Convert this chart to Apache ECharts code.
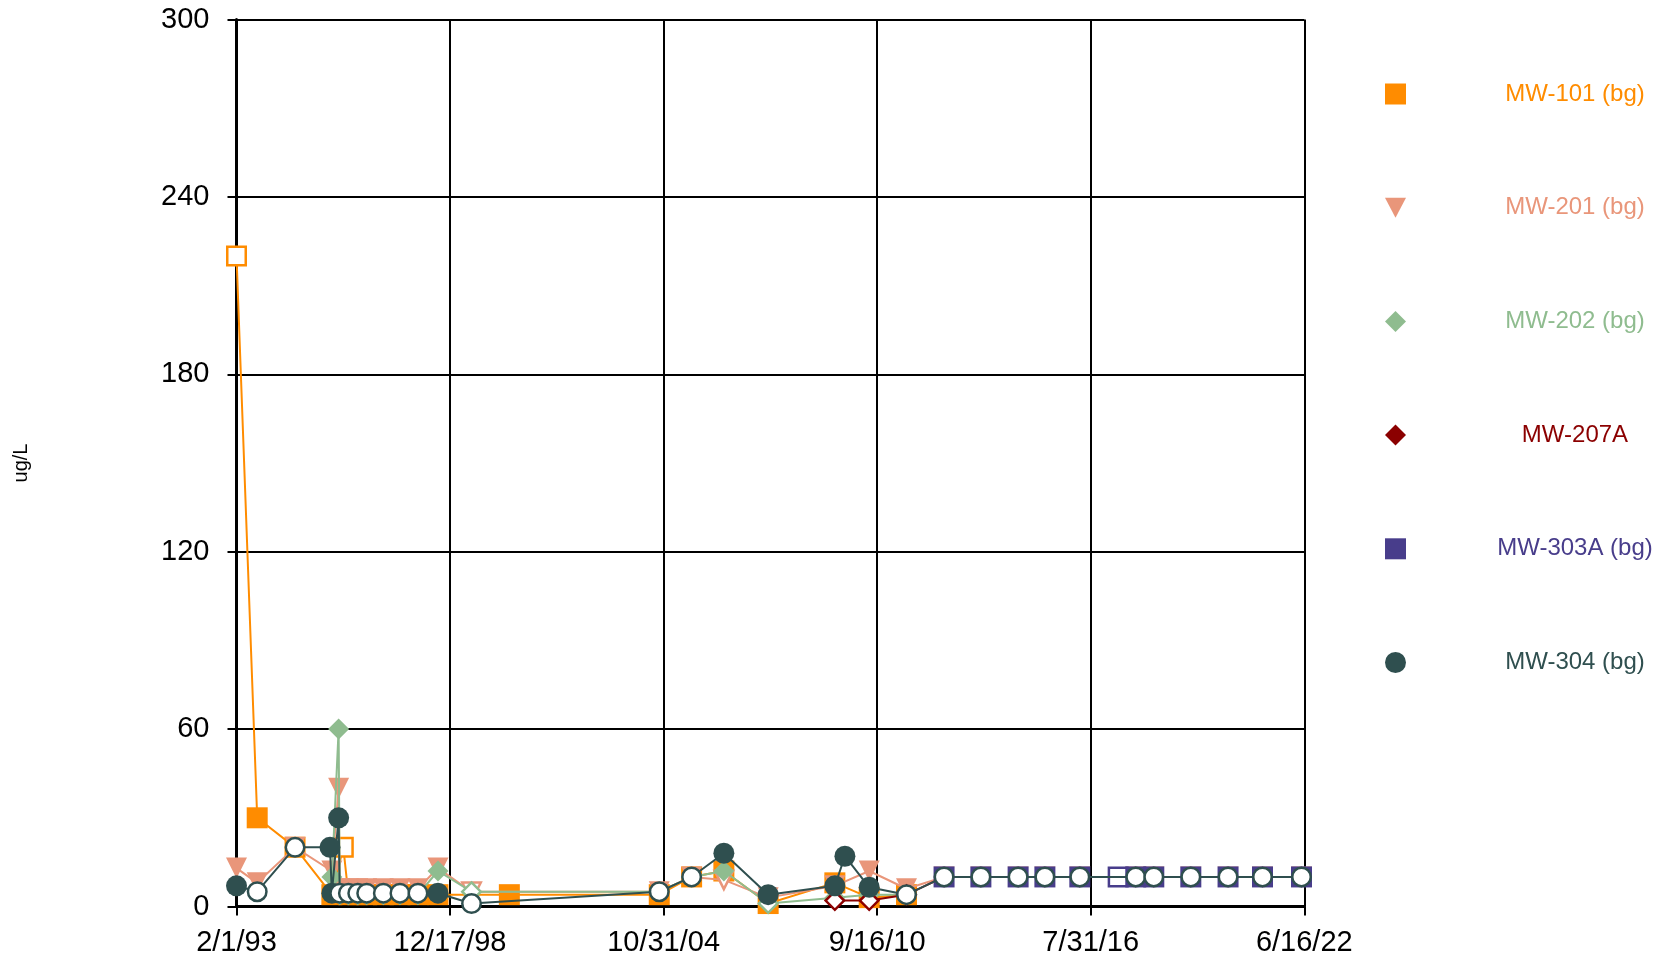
<!DOCTYPE html>
<html>
<head>
<meta charset="utf-8">
<title>Well concentrations (ug/L)</title>
<script src="https://cdn.jsdelivr.net/npm/echarts@6/dist/echarts.min.js"></script>
<style>
  html, body { margin: 0; padding: 0; background: #ffffff; }
  #chart { width: 1667px; height: 964px; }
</style>
</head>
<body>
<div id="chart"></div>
<script>
// Sampling results per well: [sample date, concentration (ug/L), non-detect flag (1 = hollow marker)]
const mw101 = [
  ['1993-02-01', 220, 1], ['1993-08-28', 30, 0], ['1994-09-12', 20, 1],
  ['1995-09-17', 4, 0], ['1996-01-10', 20, 1], ['1996-03-01', 4, 0],
  ['1996-06-03', 4, 0], ['1996-09-01', 4, 0], ['1997-02-15', 4, 0],
  ['1997-08-01', 4, 0], ['1998-01-29', 4, 0], ['1998-08-18', 4, 0],
  ['2000-08-04', 4, 0], ['2004-09-18', 4, 0], ['2005-08-09', 10, 0],
  ['2006-06-29', 12, 0], ['2007-09-17', 1, 0], ['2009-07-18', 8, 0],
  ['2010-06-28', 3, 0], ['2011-07-08', 4, 0]
];
const mw201 = [
  ['1993-02-01', 13, 0], ['1993-08-28', 8, 0], ['1994-09-12', 20, 0],
  ['1995-09-17', 12, 0], ['1995-11-24', 40, 0], ['1995-12-05', 6, 0],
  ['1996-03-01', 6, 0], ['1996-06-03', 6, 0], ['1996-09-01', 6, 0],
  ['1997-02-15', 6, 0], ['1997-08-01', 6, 0], ['1998-01-29', 6, 0],
  ['1998-08-18', 13, 0], ['1999-07-21', 5, 1], ['2004-09-18', 5, 0],
  ['2005-08-09', 10, 0], ['2006-06-29', 9, 1], ['2007-09-17', 3, 0],
  ['2009-07-18', 7, 0], ['2010-06-28', 12, 0], ['2011-07-08', 6, 0],
  ['2012-07-19', 10, 0], ['2013-07-24', 10, 0], ['2014-08-02', 10, 0],
  ['2015-04-28', 10, 0], ['2016-04-13', 10, 0], ['2017-10-27', 10, 0],
  ['2018-04-26', 10, 0], ['2019-05-03', 10, 0], ['2020-05-11', 10, 0],
  ['2021-04-22', 10, 0], ['2022-05-19', 10, 0]
];
const mw202 = [
  ['1995-09-17', 10, 0], ['1995-11-24', 60, 0], ['1995-12-05', 4, 0],
  ['1996-03-01', 4, 0], ['1996-06-03', 4, 0], ['1996-09-01', 4, 0],
  ['1997-02-15', 4, 0], ['1997-08-01', 4, 0], ['1998-01-29', 4, 0],
  ['1998-08-18', 12, 0], ['1999-07-21', 5, 1], ['2004-09-18', 5, 0],
  ['2005-08-09', 10, 0], ['2006-06-29', 12, 0], ['2007-09-17', 1, 1],
  ['2009-07-18', 3, 0], ['2010-06-28', 4, 0], ['2011-07-08', 4, 0]
];
const mw207a = [
  ['2009-07-18', 2, 1], ['2010-06-28', 2, 1], ['2011-07-08', 4, 1],
  ['2012-07-19', 10, 0], ['2013-07-24', 10, 0], ['2014-08-02', 10, 0],
  ['2015-04-28', 10, 0], ['2016-04-13', 10, 0], ['2017-10-27', 10, 0],
  ['2018-04-26', 10, 0], ['2019-05-03', 10, 0], ['2020-05-11', 10, 0],
  ['2021-04-22', 10, 0], ['2022-05-19', 10, 0]
];
const mw303a = [
  ['2012-07-19', 10, 0], ['2013-07-24', 10, 0], ['2014-08-02', 10, 0],
  ['2015-04-28', 10, 0], ['2016-04-13', 10, 0], ['2017-05-03', 10, 1],
  ['2017-10-27', 10, 0], ['2018-04-26', 10, 0], ['2019-05-03', 10, 0],
  ['2020-05-11', 10, 0], ['2021-04-22', 10, 0], ['2022-05-19', 10, 0]
];
const mw304 = [
  ['1993-02-01', 7, 0], ['1993-08-28', 5, 1], ['1994-09-12', 20, 1],
  ['1995-08-29', 20, 0], ['1995-09-17', 4.5, 0], ['1995-11-24', 30, 0],
  ['1995-12-05', 4.5, 1], ['1996-03-01', 4.5, 1], ['1996-06-03', 4.5, 1],
  ['1996-09-01', 4.5, 1], ['1997-02-15', 4.5, 1], ['1997-08-01', 4.5, 1],
  ['1998-01-29', 4.5, 1], ['1998-08-18', 4.5, 0], ['1999-07-21', 1, 1],
  ['2004-09-18', 5, 1], ['2005-08-09', 10, 1], ['2006-06-29', 18, 0],
  ['2007-09-17', 4, 0], ['2009-07-18', 7, 0], ['2009-10-27', 17, 0],
  ['2010-06-28', 6.5, 0], ['2011-07-08', 4, 1], ['2012-07-19', 10, 1],
  ['2013-07-24', 10, 1], ['2014-08-02', 10, 1], ['2015-04-28', 10, 1],
  ['2016-04-13', 10, 1], ['2017-10-27', 10, 1], ['2018-04-26', 10, 1],
  ['2019-05-03', 10, 1], ['2020-05-11', 10, 1], ['2021-04-22', 10, 1],
  ['2022-05-19', 10, 1]
];

const wellNames = ['MW-101 (bg)', 'MW-201 (bg)', 'MW-202 (bg)', 'MW-207A', 'MW-303A (bg)', 'MW-304 (bg)'];
const wellColors = ['#FF8C00', '#E9967A', '#8FBC8F', '#8B0000', '#483D8B', '#2F4F4F'];
const wellRows = [mw101, mw201, mw202, mw207a, mw303a, mw304];
const downTriangle = 'path://M0,0L20,0L10,19Z';
const wellSymbols = ['rect', downTriangle, 'diamond', 'diamond', 'rect', 'circle'];
const markerSize = 21;
const hollowBorder = 2.5;

// Axis range: 2/1/93 to 6/16/22 split into five equal steps
const yTicks = [0, 60, 120, 180, 240, 300];
const xStart = Date.UTC(1993, 1, 1);
const xEnd = Date.UTC(2022, 5, 16);
const xStep = (xEnd - xStart) / 5;

function fmtDate(v) {
  const d = new Date(v);
  const yy = String(d.getUTCFullYear() % 100).padStart(2, '0');
  return (d.getUTCMonth() + 1) + '/' + d.getUTCDate() + '/' + yy;
}

function buildData(rows, color) {
  return rows.map(function (r) {
    const pt = [Date.parse(r[0]), r[1]];
    if (r[2]) {
      return {
        value: pt,
        symbolSize: markerSize - hollowBorder,
        itemStyle: { color: '#ffffff', borderColor: color, borderWidth: hollowBorder }
      };
    }
    return pt;
  });
}

const series = wellNames.map(function (name, i) {
  return {
    name: name,
    type: 'line',
    data: buildData(wellRows[i], wellColors[i]),
    symbol: wellSymbols[i],
    symbolSize: markerSize,
    showAllSymbol: true,
    lineStyle: { color: wellColors[i], width: 2 },
    itemStyle: { color: wellColors[i], borderWidth: 0 },
    emphasis: { disabled: true },
    z: 2 + i
  };
});

const chart = echarts.init(document.getElementById('chart'), null, { renderer: 'canvas' });
chart.setOption({
  animation: false,
  backgroundColor: '#ffffff',
  textStyle: { fontFamily: '"Liberation Sans", Arial, sans-serif' },
  grid: { left: 236.5, right: 362.7, top: 19.5, bottom: 57.5, containLabel: false },
  legend: {
    orient: 'vertical',
    left: 1380,
    top: 77,
    itemWidth: 21,
    itemHeight: 21,
    itemGap: 89.7,
    selectedMode: false,
    formatter: '{a|{name}}',
    textStyle: {
      fontSize: 24,
      lineHeight: 22,
      fontFamily: '"Liberation Sans", Arial, sans-serif',
      rich: { a: { width: 328, align: 'center', fontSize: 24, lineHeight: 22 } }
    },
    data: wellNames.map(function (name, i) {
      return { name: name, icon: wellSymbols[i], textStyle: { color: wellColors[i] } };
    })
  },
  xAxis: {
    type: 'value',
    min: xStart,
    max: xEnd,
    interval: xStep,
    axisLine: { show: true, onZero: false, lineStyle: { color: '#000', width: 3 } },
    axisTick: { show: true, length: 9, lineStyle: { color: '#000', width: 2 } },
    axisLabel: { formatter: fmtDate, fontSize: 29, color: '#000', margin: 22 },
    splitLine: { show: true, lineStyle: { color: '#000', width: 2 } }
  },
  yAxis: {
    type: 'value',
    min: yTicks[0],
    max: yTicks[yTicks.length - 1],
    interval: yTicks[1] - yTicks[0],
    name: 'ug/L',
    nameLocation: 'middle',
    nameGap: 205,
    nameRotate: 90,
    nameTextStyle: { fontSize: 20, color: '#000' },
    axisLine: { show: true, lineStyle: { color: '#000', width: 3 } },
    axisTick: { show: true, length: 9, lineStyle: { color: '#000', width: 2 } },
    axisLabel: { fontSize: 29, color: '#000', margin: 27 },
    splitLine: { show: true, lineStyle: { color: '#000', width: 2 } }
  },
  series: series
});
</script>
</body>
</html>
